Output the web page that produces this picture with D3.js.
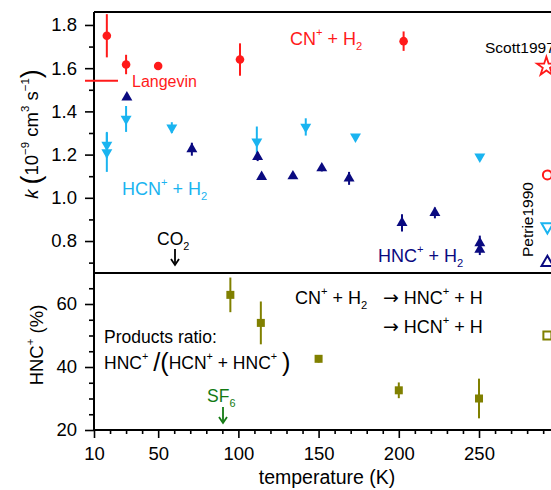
<!DOCTYPE html>
<html>
<head>
<meta charset="utf-8">
<script src="https://cdn.jsdelivr.net/npm/d3@7"></script>
<style>
  body { margin: 0; background: #fff; }
  text { font-family: "Liberation Sans", Arial, sans-serif; }
</style>
</head>
<body>
<div id="chart"></div>
<script>
// ---- data ----
// CN+ + H2 total rate (red circles)
let cnT = [18, 30, 50, 101, 203];
let cnK = [1.75, 1.617, 1.61, 1.64, 1.725];
let cnErr = [0.1, 0.045, 0.012, 0.075, 0.045];

// HCN+ + H2 (light blue, down triangles)
let hcnT = [18, 18, 30, 58.5, 111.5, 142, 173, 250.5];
let hcnK = [1.245, 1.21, 1.365, 1.325, 1.26, 1.328, 1.283, 1.19];
let hcnErr = [0.06, 0.09, 0.06, 0.025, 0.07, 0.04, 0.01, 0.01];

// HNC+ + H2 (navy, up triangles)
let hncT = [30.5, 71, 112, 114.5, 134, 152, 169, 202, 222.5, 250.5, 250.5];
let hncK = [1.465, 1.225, 1.19, 1.097, 1.1, 1.137, 1.09, 0.884, 0.93, 0.79, 0.76];
let hncErr = [0, 0.03, 0.02, 0, 0, 0.015, 0.03, 0.04, 0.025, 0.035, 0.025];

// products ratio HNC+/(HCN+ + HNC+) in %
let ratioT = [95, 114, 150, 200, 250];
let ratioV = [62.9, 54, 42.6, 32.6, 30];
let ratioErr = [5.5, 6.8, 1.2, 2.5, 6.3];

// literature values (open markers, right edge)
let litT = 292;
let scottK = 1.607;
let petrieCN = 1.106, petrieHCN = 0.866, petrieHNC = 0.70;
let litRatio = 50;
let langevinK = 1.542;

let xMajor = [10, 50, 100, 150, 200, 250];
let kMajor = [0.8, 1.0, 1.2, 1.4, 1.6, 1.8];
let kMinor = [0.7, 0.9, 1.1, 1.3, 1.5, 1.7];
let pMajor = [20, 40, 60];
let pMinor = [25, 30, 35, 45, 50, 55, 65];

const RED = "#ff1a1a", CYAN = "#1ab4f0", NAVY = "#0a0a80", OLIVE = "#808000", GREEN = "#137a13";

let W = 551, H = 490;
let svg = d3.select("#chart").append("svg")
    .attr("width", W).attr("height", H);

let x = d3.scaleLinear().domain([10, 320]).range([94, 94 + 310 * 1.6042]);
let yk = d3.scaleLinear().domain([0.652, 1.86]).range([273, 12]);
let yp = d3.scaleLinear().domain([20, 70]).range([430, 272.5]);

// rich text helper: parts = [[text, kind]], kind: n, sup, sub, it, big, arr
function rich(g, parts, size) {
    let t = g.append("text").attr("font-size", size);
    let off = 0;
    parts.forEach(p => {
        let s = t.append("tspan").text(p[0]);
        let target = 0;
        if (p[1] === "sup") { target = -0.5 * size; s.attr("font-size", size * 0.62); }
        else if (p[1] === "sub") { target = 0.3 * size; s.attr("font-size", size * 0.62); }
        else if (p[1] === "it") { s.attr("font-style", "italic"); }
        else if (p[1] === "big") { s.attr("font-size", size * 1.45).attr("font-weight", 300); target = 0.1 * size; }
        else if (p[1] === "arr") { s.attr("font-family", "DejaVu Sans").attr("font-size", size * 1.05); }
        s.attr("dy", target - off);
        off = target;
    });
    return t;
}

// ---- axes ----
let axisG = svg.append("g");
axisG.append("g")
    .attr("transform", "translate(0,430)")
    .call(d3.axisBottom(x).tickValues(xMajor).tickSize(8).tickSizeOuter(0).tickPadding(9))
    .call(g => g.select(".domain").remove());
axisG.append("g")
    .attr("transform", "translate(0,430)")
    .call(d3.axisBottom(x).tickValues(d3.range(20, 320, 10).filter(v => v % 50 !== 0)).tickSize(4).tickFormat(""))
    .call(g => g.select(".domain").remove());

axisG.append("g")
    .attr("transform", "translate(94,0)")
    .call(d3.axisLeft(yk).tickValues(kMajor).tickFormat(d3.format(".1f")).tickSize(9).tickPadding(8))
    .call(g => g.select(".domain").remove());
axisG.append("g")
    .attr("transform", "translate(94,0)")
    .call(d3.axisLeft(yk).tickValues(kMinor).tickFormat("").tickSize(5))
    .call(g => g.select(".domain").remove());
axisG.append("g")
    .attr("transform", "translate(94,0)")
    .call(d3.axisLeft(yp).tickValues(pMajor).tickSize(9).tickPadding(8))
    .call(g => g.select(".domain").remove());
axisG.append("g")
    .attr("transform", "translate(94,0)")
    .call(d3.axisLeft(yp).tickValues(pMinor).tickFormat("").tickSize(5))
    .call(g => g.select(".domain").remove());

axisG.selectAll(".tick line").attr("stroke", "#000").attr("stroke-width", 1.6);
axisG.selectAll(".tick text").attr("font-size", 18.5).attr("fill", "#000")
    .attr("font-family", "Liberation Sans, Arial, sans-serif");

// frame
let frame = svg.append("g").attr("stroke", "#000").attr("stroke-width", 2).attr("fill", "none");
frame.append("line").attr("x1", 94).attr("x2", x(320)).attr("y1", yk(1.86)).attr("y2", yk(1.86));
frame.append("line").attr("x1", 94).attr("x2", x(320)).attr("y1", 273).attr("y2", 273);
frame.append("line").attr("x1", 94).attr("x2", x(320)).attr("y1", 430).attr("y2", 430);
frame.append("line").attr("x1", 94).attr("x2", 94).attr("y1", 12).attr("y2", 430);

// ---- marks ----
let marks = svg.append("g");

function errBars(T, V, E, y, color) {
    marks.append("g").selectAll("line")
        .data(T.map((t, i) => ({t, v: V[i], e: E[i]})).filter(d => d.e > 0))
        .join("line")
        .attr("x1", d => x(d.t)).attr("x2", d => x(d.t))
        .attr("y1", d => y(d.v + d.e)).attr("y2", d => y(d.v - d.e))
        .attr("stroke", color).attr("stroke-width", 2);
}

let triUp = d3.symbol().type(d3.symbolTriangle).size(52);

// Langevin line
marks.append("line")
    .attr("x1", 85).attr("x2", 118)
    .attr("y1", yk(langevinK)).attr("y2", yk(langevinK))
    .attr("stroke", RED).attr("stroke-width", 2);

errBars(cnT, cnK, cnErr, yk, RED);
marks.append("g").selectAll("circle")
    .data(cnT.map((t, i) => ({t, v: cnK[i]})))
    .join("circle")
    .attr("cx", d => x(d.t)).attr("cy", d => yk(d.v)).attr("r", 4.3)
    .attr("fill", RED);

errBars(hcnT, hcnK, hcnErr, yk, CYAN);
marks.append("g").selectAll("path")
    .data(hcnT.map((t, i) => ({t, v: hcnK[i]})))
    .join("path")
    .attr("d", triUp)
    .attr("transform", d => `translate(${x(d.t)},${yk(d.v)}) rotate(180)`)
    .attr("fill", CYAN);

errBars(hncT, hncK, hncErr, yk, NAVY);
marks.append("g").selectAll("path")
    .data(hncT.map((t, i) => ({t, v: hncK[i]})))
    .join("path")
    .attr("d", triUp)
    .attr("transform", d => `translate(${x(d.t)},${yk(d.v)})`)
    .attr("fill", NAVY);

errBars(ratioT, ratioV, ratioErr, yp, OLIVE);
marks.append("g").selectAll("rect")
    .data(ratioT.map((t, i) => ({t, v: ratioV[i]})))
    .join("rect")
    .attr("x", d => x(d.t) - 4).attr("y", d => yp(d.v) - 4)
    .attr("width", 8).attr("height", 8)
    .attr("fill", OLIVE);

// literature, open markers
marks.append("path")
    .attr("d", d3.symbol().type(d3.symbolStar).size(110))
    .attr("transform", `translate(${x(litT)},${yk(scottK)})`)
    .attr("fill", "#fff").attr("stroke", RED).attr("stroke-width", 1.8);
marks.append("circle")
    .attr("cx", x(litT) + 1).attr("cy", yk(petrieCN)).attr("r", 4.5)
    .attr("fill", "none").attr("stroke", RED).attr("stroke-width", 2);
marks.append("path")
    .attr("d", d3.symbol().type(d3.symbolTriangle).size(60))
    .attr("transform", `translate(${x(litT) + 1},${yk(petrieHCN)}) rotate(180)`)
    .attr("fill", "none").attr("stroke", CYAN).attr("stroke-width", 2);
marks.append("path")
    .attr("d", d3.symbol().type(d3.symbolTriangle).size(60))
    .attr("transform", `translate(${x(litT) + 1},${yk(petrieHNC)})`)
    .attr("fill", "none").attr("stroke", NAVY).attr("stroke-width", 2);
marks.append("rect")
    .attr("x", x(litT) - 3).attr("y", yp(litRatio) - 4)
    .attr("width", 8).attr("height", 8)
    .attr("fill", "none").attr("stroke", OLIVE).attr("stroke-width", 2);

// ---- labels ----
let lab = svg.append("g");

rich(lab, [["CN", "n"], ["+", "sup"], ["  + H", "n"], ["2", "sub"]], 18)
    .attr("x", 290).attr("y", 45).attr("fill", RED);
lab.append("text").attr("x", 132).attr("y", 87).attr("font-size", 16)
    .attr("fill", RED).text("Langevin");
rich(lab, [["HCN", "n"], ["+", "sup"], ["  + H", "n"], ["2", "sub"]], 18)
    .attr("x", 122).attr("y", 195).attr("fill", CYAN);
rich(lab, [["HNC", "n"], ["+", "sup"], ["  + H", "n"], ["2", "sub"]], 18)
    .attr("x", 378).attr("y", 262).attr("fill", NAVY);
rich(lab, [["CO", "n"], ["2", "sub"]], 17.5)
    .attr("x", 157).attr("y", 245).attr("fill", "#000");
lab.append("text").attr("x", 485).attr("y", 53).attr("font-size", 15.5).text("Scott1997");
lab.append("text").attr("transform", "translate(533,257) rotate(-90)")
    .attr("font-size", 15.5).text("Petrie1990");

rich(lab, [["CN", "n"], ["+", "sup"], ["  + H", "n"], ["2", "sub"]], 18)
    .attr("x", 295).attr("y", 304);
rich(lab, [["\u2192", "arr"], [" HNC", "n"], ["+", "sup"], ["  + H", "n"]], 18)
    .attr("x", 383).attr("y", 304);
rich(lab, [["\u2192", "arr"], [" HCN", "n"], ["+", "sup"], ["  + H", "n"]], 18)
    .attr("x", 383).attr("y", 333);
lab.append("text").attr("x", 104).attr("y", 343).attr("font-size", 17.5).text("Products ratio:");
rich(lab, [["HNC", "n"], ["+", "sup"], [" ", "n"], ["/", "big"], ["(", "big"], ["HCN", "n"], ["+", "sup"], ["  + HNC", "n"], ["+", "sup"], [" ", "n"], [")", "big"]], 17.5)
    .attr("x", 104).attr("y", 369);
rich(lab, [["SF", "n"], ["6", "sub"]], 17.5)
    .attr("x", 207).attr("y", 402).attr("fill", GREEN);

// arrows
function arrow(xp, y0, y1, color) {
    lab.append("line").attr("x1", xp).attr("x2", xp).attr("y1", y0).attr("y2", y1 - 2)
        .attr("stroke", color).attr("stroke-width", 1.8);
    lab.append("path")
        .attr("d", `M${xp - 4},${y1 - 6} L${xp},${y1} L${xp + 4},${y1 - 6}`)
        .attr("fill", "none").attr("stroke", color).attr("stroke-width", 1.8);
}
arrow(175, 249, 265, "#000");
arrow(223, 407, 423, GREEN);

// axis titles
rich(lab, [["k", "it"], [" ", "n"], ["(", "big"], ["10", "n"], ["\u22129", "sup"], [" cm", "n"], ["3", "sup"], [" s", "n"], ["\u22121", "sup"], [")", "big"]], 18.5)
    .attr("text-anchor", "middle")
    .attr("transform", "translate(38,134) rotate(-90)");
rich(lab, [["HNC", "n"], ["+", "sup"], ["   (%)", "n"]], 18.5)
    .attr("text-anchor", "middle")
    .attr("transform", "translate(43,345) rotate(-90)");
lab.append("text").attr("x", 327).attr("y", 484).attr("font-size", 19.5)
    .attr("text-anchor", "middle").text("temperature (K)");
</script>
</body>
</html>
